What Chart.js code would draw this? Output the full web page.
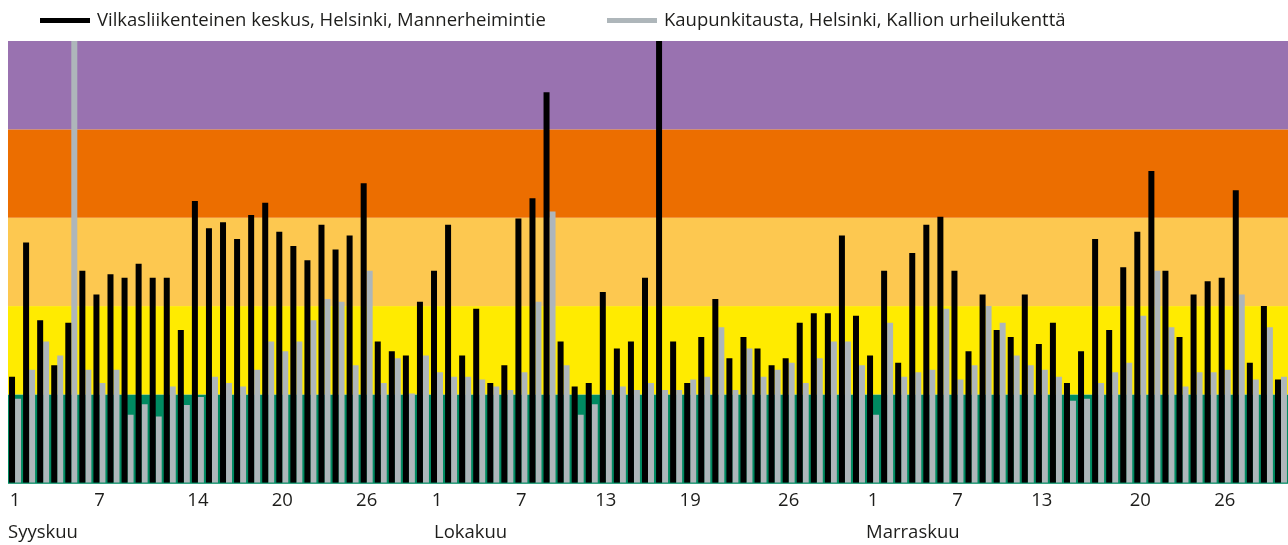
<!DOCTYPE html>
<html>
<head>
<meta charset="utf-8">
<script src="https://cdn.jsdelivr.net/npm/chart.js@4.4.1/dist/chart.umd.min.js"></script>
<style>
html,body{margin:0;padding:0;background:#ffffff;}
#wrap{width:1288px;height:545px;position:relative;overflow:hidden;}
</style>
</head>
<body>
<div id="wrap"><canvas id="c" width="1288" height="545"></canvas></div>
<script>
// ---- data ----
const months = ['Syyskuu', 'Lokakuu', 'Marraskuu'];
const monthDays = [30, 31, 30];
const tickDaysSep = [1, 7, 14, 20, 26];
const tickDaysOct = [1, 7, 13, 19, 26];
const tickDaysNov = [1, 7, 13, 20, 26];
const seriesNames = ['Vilkasliikenteinen keskus, Helsinki, Mannerheimintie', 'Kaupunkitausta, Helsinki, Kallion urheilukenttä'];

const centreSep = [1.20, 2.72, 1.84, 1.33, 1.81, 2.40, 2.13, 2.36, 2.32, 2.48, 2.32, 2.32, 1.73, 3.19, 2.88, 2.95, 2.76, 3.03, 3.17, 2.84, 2.68, 2.52, 2.92, 2.64, 2.80, 3.39, 1.60, 1.49, 1.44, 2.05];
const centreOct = [2.40, 2.92, 1.44, 1.97, 1.13, 1.33, 2.99, 3.22, 4.42, 1.60, 1.09, 1.13, 2.16, 1.52, 1.60, 2.32, 5.60, 1.60, 1.13, 1.65, 2.08, 1.41, 1.65, 1.52, 1.33, 1.41, 1.81, 1.92, 1.92, 2.80, 1.89];
const centreNov = [1.44, 2.40, 1.36, 2.60, 2.92, 3.01, 2.40, 1.49, 2.13, 1.73, 1.65, 2.13, 1.57, 1.81, 1.13, 1.49, 2.76, 1.73, 2.44, 2.84, 3.53, 2.40, 1.65, 2.13, 2.28, 2.32, 3.31, 1.36, 2.00, 1.17];

const backSep = [0.95, 1.28, 1.60, 1.44, 5.60, 1.28, 1.13, 1.28, 0.77, 0.89, 0.75, 1.09, 0.88, 0.97, 1.20, 1.13, 1.09, 1.28, 1.60, 1.49, 1.60, 1.84, 2.08, 2.05, 1.33, 2.40, 1.13, 1.41, 1.01, 1.44];
const backOct = [1.25, 1.20, 1.20, 1.17, 1.09, 1.05, 1.25, 2.05, 3.07, 1.33, 0.77, 0.89, 1.05, 1.09, 1.05, 1.13, 1.05, 1.05, 1.17, 1.20, 1.76, 1.05, 1.52, 1.20, 1.28, 1.36, 1.13, 1.41, 1.60, 1.60, 1.33];
const backNov = [0.77, 1.81, 1.20, 1.25, 1.28, 1.97, 1.17, 1.33, 2.00, 1.81, 1.44, 1.33, 1.28, 1.20, 0.93, 0.95, 1.13, 1.25, 1.36, 1.89, 2.40, 1.76, 1.09, 1.25, 1.25, 1.28, 2.13, 1.17, 1.76, 1.20];

const bandLimits = [0, 1, 2, 3, 4, 5];

// ---- build ----
const bandColors = ['#008a61', '#ffeb00', '#fdc850', '#ec6e00', '#9972b0'];
const tickSets = [tickDaysSep, tickDaysOct, tickDaysNov];
const labels = [];
const shown = [];
const monthStart = [];
months.forEach((m, mi) => {
  monthStart.push(labels.length);
  for (let d = 1; d <= monthDays[mi]; d++) {
    labels.push(String(d));
    shown.push(tickSets[mi].includes(d));
  }
});
const centre = centreSep.concat(centreOct, centreNov);
const back = backSep.concat(backOct, backNov);

const FONT = "'Open Sans', 'Noto Sans', sans-serif";
const FSIZE = 18.5;
const TEXT = '#1d1d1b';

const bandsPlugin = {
  id: 'bands',
  beforeDatasetsDraw(chart) {
    const { ctx, chartArea: a, scales: { y } } = chart;
    ctx.save();
    for (let i = 0; i < bandColors.length; i++) {
      const top = y.getPixelForValue(bandLimits[i + 1]);
      const bot = y.getPixelForValue(bandLimits[i]);
      ctx.fillStyle = bandColors[i];
      ctx.fillRect(a.left, top, a.right - a.left, bot - top + (i === 0 ? 1 : 0));
    }
    ctx.restore();
  }
};

const extrasPlugin = {
  id: 'extras',
  afterDraw(chart) {
    const { ctx, scales: { x } } = chart;
    ctx.save();
    ctx.font = FSIZE + "px " + FONT;
    ctx.fillStyle = TEXT;
    ctx.textBaseline = 'alphabetic';
    ctx.textAlign = 'left';
    // month names
    monthStart.forEach((i0, mi) => {
      const px = x.getPixelForValue(i0) - 7 + (mi === 1 ? 4 : 0);
      ctx.fillText(months[mi], px, 538);
    });
    // legend
    const items = [
      { x: 40, color: '#000000', text: seriesNames[0] },
      { x: 607, color: '#aeb6ba', text: seriesNames[1] }
    ];
    items.forEach(it => {
      ctx.fillStyle = it.color;
      ctx.fillRect(it.x, 18, 50, 5);
      ctx.fillStyle = TEXT;
      ctx.fillText(it.text, it.x + 57, 26);
    });
    ctx.restore();
  }
};

new Chart(document.getElementById('c'), {
  type: 'bar',
  data: {
    labels: labels,
    datasets: [
      { label: seriesNames[0], data: centre, backgroundColor: '#000000', borderWidth: 0, categoryPercentage: 0.853, barPercentage: 1.0 },
      { label: seriesNames[1], data: back, backgroundColor: '#aeb6ba', borderWidth: 0, categoryPercentage: 0.853, barPercentage: 1.0 }
    ]
  },
  options: {
    responsive: false,
    animation: false,
    devicePixelRatio: 1,
    layout: { padding: { left: 8, right: 0, top: 41, bottom: 26 } },
    plugins: { legend: { display: false }, tooltip: { enabled: false } },
    scales: {
      y: { display: false, min: 0, max: 5 },
      x: {
        grid: { display: false, drawTicks: false },
        border: { display: false },
        ticks: {
          autoSkip: false, maxRotation: 0, minRotation: 0, padding: 7,
          color: TEXT, font: { family: FONT, size: FSIZE },
          callback: function (v, i) { return shown[i] ? labels[i] : ''; }
        }
      }
    }
  },
  plugins: [bandsPlugin, extrasPlugin]
});
</script>
</body>
</html>
